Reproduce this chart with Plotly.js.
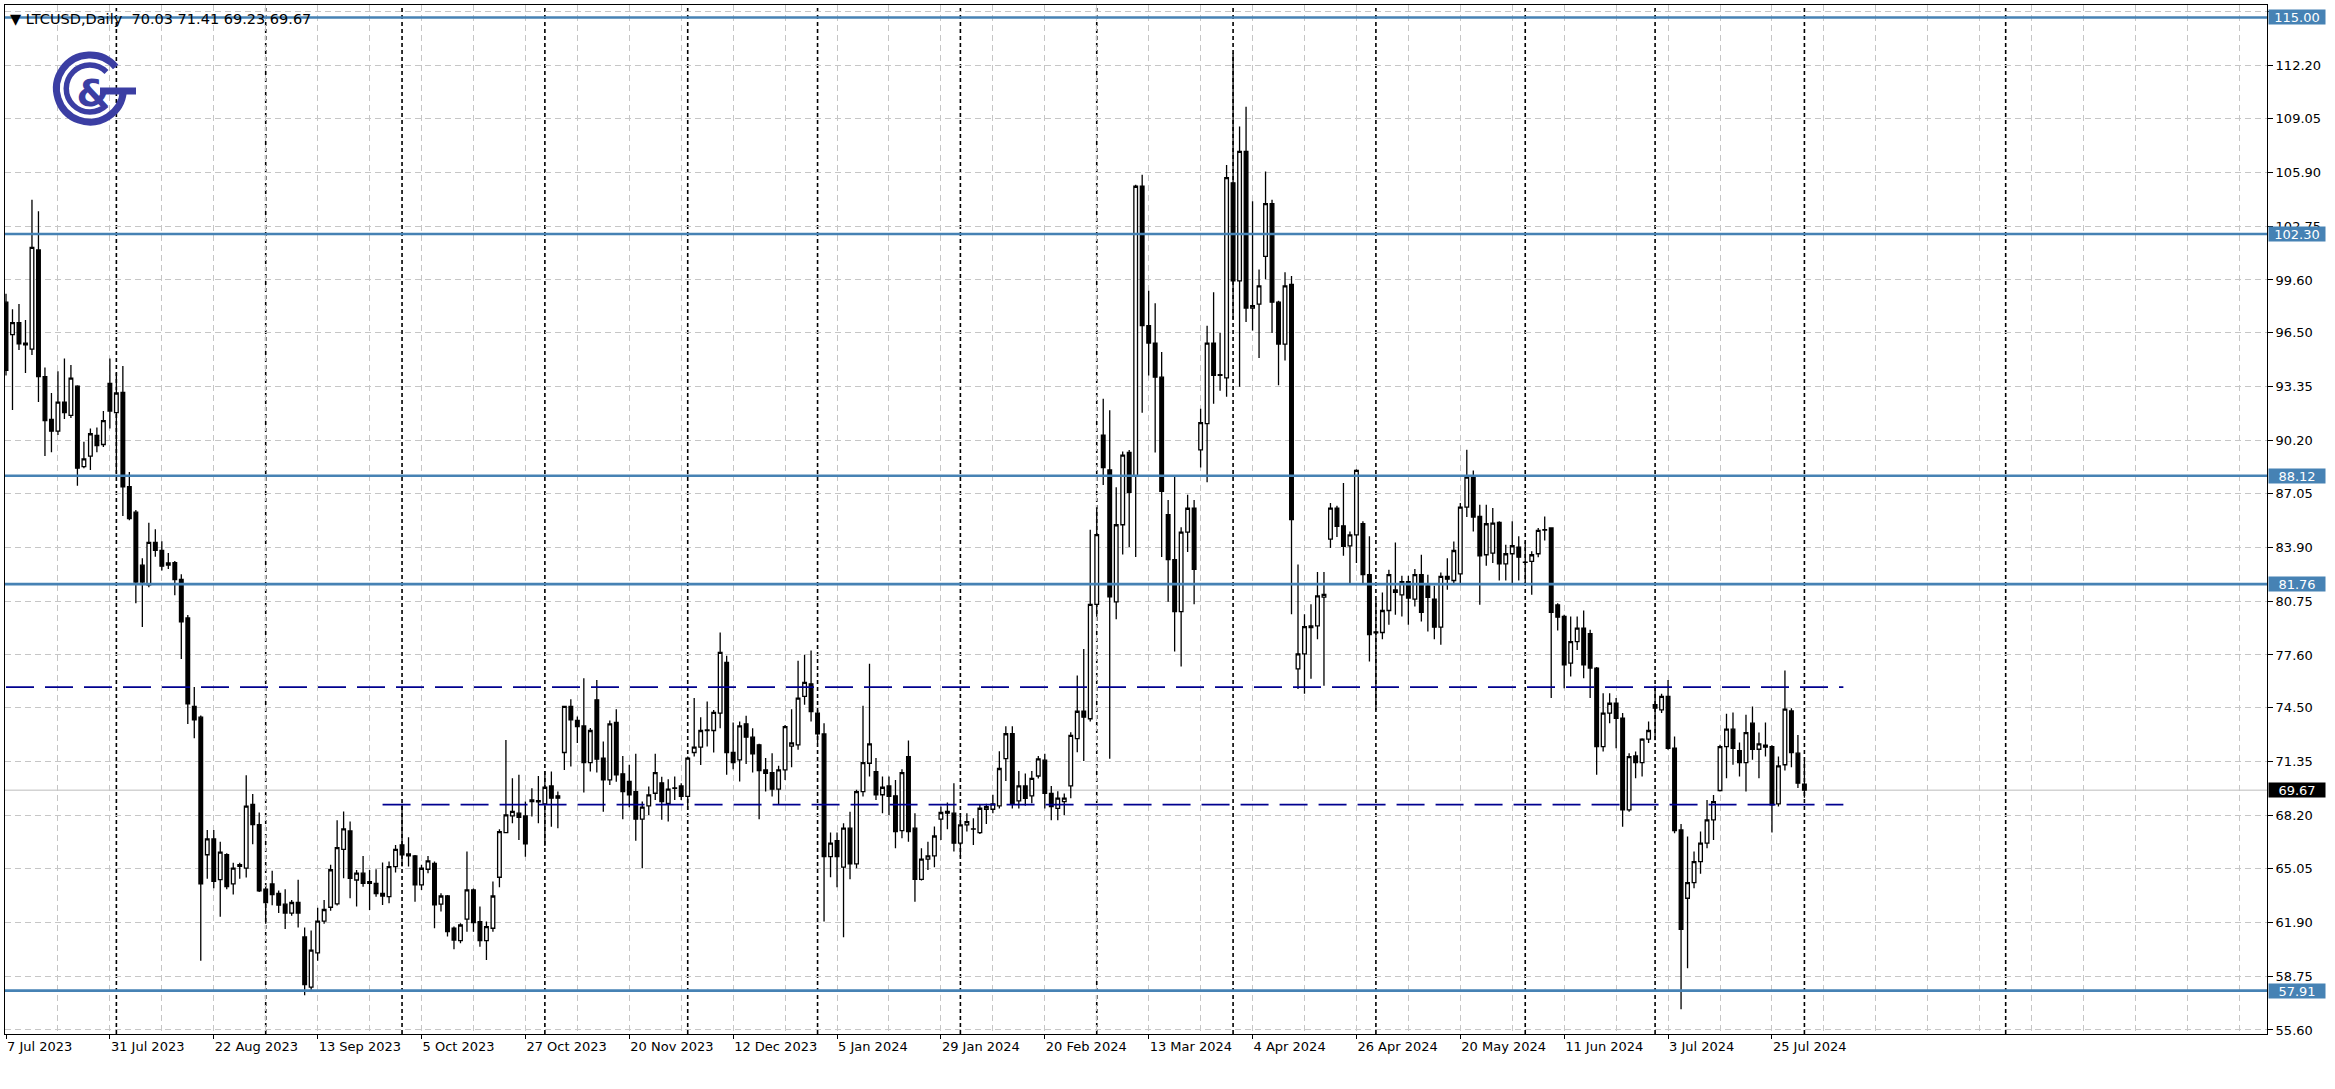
<!DOCTYPE html>
<html>
<head>
<meta charset="utf-8">
<script src="https://cdn.plot.ly/plotly-3.0.1.min.js"></script>
<style>
html,body{margin:0;padding:0;background:#fff;overflow:hidden}
#chart{width:2335px;height:1089px}
</style>
</head>
<body>
<div id="chart"></div>
<script>
// ---------- DATA ----------
const symbolTitle = "LTCUSD,Daily";
const headerValues = ["70.03", "71.41", "69.23", "69.67"];

const openP = [
  98.3, 96.39, 97.1, 95.9, 95.55, 101.36, 93.93, 91.42, 90.73, 92.44,
  91.66, 93.37, 88.65, 89.27, 90.48, 89.95, 93.53, 91.82, 93.0, 87.47,
  85.98, 82.87, 81.72, 84.21, 83.74, 82.88, 83.02, 82.03, 79.77, 74.58,
  73.95, 65.88, 66.81, 64.42, 65.88, 64.17, 65.3, 65.1, 68.83, 67.65,
  63.86, 64.17, 63.61, 62.98, 62.46, 63.08, 61.06, 58.11, 60.13, 61.99,
  62.8, 63.0, 66.2, 67.28, 64.4, 64.8, 64.3, 64.2, 63.62, 63.43,
  65.19, 66.46, 65.93, 65.81, 64.11, 65.03, 65.38, 62.99, 63.46, 61.57,
  60.84, 62.1, 63.82, 61.96, 60.84, 61.57, 64.56, 67.18, 68.16, 68.32,
  68.16, 69.0, 68.99, 68.87, 69.92, 69.34, 71.88, 74.58, 73.76, 73.44,
  71.29, 74.97, 71.55, 70.27, 73.64, 70.63, 70.18, 69.59, 67.97, 68.75,
  69.49, 70.1, 68.9, 69.8, 69.92, 69.3, 71.88, 72.19, 73.17, 73.17,
  74.19, 77.16, 71.88, 71.45, 73.56, 72.78, 72.33, 70.86, 70.7, 69.73,
  70.86, 72.25, 72.33, 75.17, 75.91, 74.19, 72.97, 65.77, 66.71, 65.15,
  67.44, 65.34, 69.59, 71.25, 70.76, 69.4, 69.92, 69.34, 67.3, 71.64,
  67.44, 64.44, 65.62, 65.81, 67.97, 68.42, 68.32, 66.56, 67.63, 67.38,
  67.18, 68.55, 68.55, 68.75, 71.52, 72.98, 69.04, 69.92, 69.33, 70.5,
  71.43, 69.48, 68.6, 69.0, 69.92, 72.69, 74.3, 73.86, 80.57, 90.5,
  88.46, 80.72, 85.24, 89.48, 88.08, 105.1, 96.92, 95.9, 93.9, 85.83,
  83.2, 80.14, 84.81, 86.21, 89.63, 91.17, 95.9, 94.0, 93.86, 105.3,
  99.55, 107.14, 97.95, 98.18, 100.99, 104.08, 98.3, 95.84, 99.34, 76.78,
  77.66, 79.2, 79.31, 81.0, 84.4, 86.22, 85.18, 84.0, 84.65, 85.3,
  82.31, 78.95, 78.92, 80.21, 81.42, 81.13, 81.91, 80.88, 82.31, 81.66,
  80.88, 79.23, 82.21, 81.97, 82.36, 86.28, 88.04, 85.73, 83.48, 83.58,
  85.38, 82.95, 83.54, 83.93, 83.03, 83.09, 83.54, 84.93, 85.05, 80.54,
  79.86, 77.12, 78.39, 79.18, 78.85, 76.83, 72.23, 74.19, 74.77, 73.89,
  68.51, 71.68, 71.29, 72.66, 74.68, 74.38, 75.17, 72.13, 67.34, 63.33,
  64.25, 65.48, 66.56, 67.93, 69.65, 72.23, 73.25, 71.99, 71.29, 73.6,
  72.07, 72.31, 72.23, 68.87, 71.16, 74.32, 71.84, 70.03
];
const highP = [
  98.8, 97.88, 98.19, 97.26, 104.31, 103.63, 94.46, 92.97, 94.24, 94.99,
  94.62, 93.43, 90.11, 90.89, 90.95, 91.91, 94.99, 94.15, 94.55, 88.34,
  86.1, 83.27, 85.36, 84.98, 84.27, 83.59, 83.12, 82.34, 79.95, 75.72,
  74.05, 67.34, 67.34, 66.65, 65.97, 65.41, 65.41, 70.54, 69.45, 68.36,
  64.01, 64.94, 63.79, 63.86, 63.23, 64.42, 61.62, 61.43, 62.77, 63.23,
  65.3, 67.9, 68.42, 67.83, 64.99, 65.81, 64.99, 65.03, 65.42, 65.48,
  66.46, 68.87, 66.91, 65.87, 65.29, 65.81, 65.48, 63.62, 63.52, 61.67,
  61.86, 66.07, 63.9, 62.84, 61.96, 64.31, 67.38, 72.62, 70.37, 70.57,
  69.0, 69.78, 70.5, 70.8, 70.76, 69.59, 74.6, 75.0, 73.99, 76.24,
  73.31, 76.14, 72.52, 73.76, 74.42, 71.68, 71.16, 71.8, 69.0, 69.88,
  71.8, 70.45, 70.31, 70.47, 70.08, 71.64, 75.07, 73.95, 74.87, 74.38,
  78.92, 77.55, 73.64, 73.7, 74.03, 73.3, 72.4, 71.55, 71.84, 71.1,
  73.5, 74.42, 77.26, 77.61, 77.86, 74.38, 73.6, 67.18, 67.18, 67.73,
  68.41, 69.7, 74.62, 77.08, 71.55, 70.47, 70.47, 70.27, 70.9, 72.58,
  68.32, 66.26, 66.65, 67.54, 68.71, 68.94, 70.08, 68.32, 68.32, 68.02,
  68.81, 68.87, 69.4, 71.96, 73.42, 73.42, 70.8, 70.65, 70.8, 71.67,
  71.8, 69.92, 69.6, 69.48, 73.07, 76.4, 77.95, 84.95, 86.27, 92.63,
  91.96, 87.44, 89.54, 89.62, 105.19, 105.77, 98.97, 98.24, 95.38, 86.7,
  88.08, 85.1, 87.0, 86.7, 92.05, 96.92, 98.88, 96.49, 106.35, 112.9,
  108.6, 109.77, 104.22, 100.22, 105.97, 104.31, 98.38, 100.05, 99.84, 82.91,
  79.99, 80.57, 82.47, 82.47, 86.51, 86.36, 87.69, 84.85, 88.5, 85.44,
  84.56, 80.84, 81.27, 82.6, 84.2, 82.25, 82.25, 82.64, 83.48, 82.31,
  81.66, 82.44, 83.28, 84.26, 86.51, 89.64, 88.43, 86.42, 86.42, 86.22,
  85.44, 84.07, 85.44, 84.56, 84.26, 83.68, 85.05, 85.73, 85.1, 80.64,
  79.96, 79.86, 79.86, 80.21, 79.08, 76.9, 75.36, 75.36, 75.07, 74.19,
  71.84, 71.94, 72.72, 73.7, 75.8, 75.32, 76.14, 72.82, 67.69, 66.95,
  66.07, 67.24, 69.1, 69.39, 72.33, 74.15, 74.23, 72.46, 74.09, 74.58,
  73.05, 73.64, 72.3, 71.64, 76.69, 74.48, 72.91, 71.41
];
const lowP = [
  94.0, 91.97, 95.49, 94.15, 95.2, 92.44, 89.27, 89.49, 90.51, 91.45,
  91.51, 87.53, 88.56, 88.46, 89.49, 89.8, 90.89, 88.25, 85.76, 85.5,
  80.63, 79.24, 81.57, 83.37, 82.56, 82.65, 81.1, 77.37, 73.55, 72.71,
  59.66, 64.48, 63.92, 62.24, 63.86, 63.55, 64.48, 64.54, 66.5, 63.7,
  61.84, 62.92, 62.46, 61.53, 62.3, 61.62, 57.64, 57.95, 59.66, 61.84,
  62.6, 62.9, 64.5, 63.33, 62.84, 64.0, 62.64, 63.42, 62.94, 63.03,
  64.84, 65.19, 65.19, 63.13, 63.82, 64.8, 61.57, 62.55, 61.08, 60.34,
  60.69, 61.37, 61.37, 60.49, 59.71, 61.37, 63.97, 67.14, 67.73, 66.75,
  65.77, 68.12, 67.73, 66.4, 67.53, 67.43, 70.86, 71.06, 72.43, 69.53,
  70.76, 70.7, 68.41, 69.98, 70.17, 67.97, 68.67, 66.7, 65.09, 68.22,
  69.1, 67.93, 67.83, 69.1, 69.1, 68.51, 71.64, 71.15, 72.23, 71.88,
  73.3, 70.57, 70.9, 70.18, 71.21, 70.7, 67.97, 69.59, 69.3, 68.86,
  70.27, 71.02, 72.04, 74.68, 73.7, 72.43, 61.96, 64.56, 63.97, 61.04,
  64.44, 65.09, 69.3, 70.47, 69.1, 68.32, 68.22, 66.26, 66.85, 66.65,
  63.13, 64.37, 64.99, 65.15, 66.75, 67.38, 66.07, 65.73, 67.24, 66.46,
  67.1, 67.69, 68.32, 68.6, 70.21, 68.6, 68.6, 68.75, 68.9, 70.36,
  68.6, 67.9, 67.9, 68.2, 69.19, 71.9, 71.38, 73.7, 79.85, 87.58,
  71.52, 79.7, 83.5, 83.93, 83.35, 91.81, 94.0, 89.48, 83.35, 80.72,
  77.8, 76.92, 83.64, 80.57, 88.6, 87.73, 92.34, 93.1, 92.75, 97.3,
  93.33, 97.13, 96.63, 95.03, 99.64, 96.49, 93.42, 94.88, 79.99, 75.61,
  75.32, 76.2, 78.53, 75.8, 83.87, 84.52, 83.42, 81.82, 82.99, 81.72,
  77.22, 74.38, 78.53, 79.37, 79.96, 79.86, 79.37, 80.45, 79.57, 78.98,
  78.53, 78.2, 81.43, 81.82, 81.82, 85.69, 84.85, 80.55, 82.83, 82.99,
  81.97, 81.97, 81.82, 81.97, 81.82, 81.13, 83.34, 84.32, 75.07, 79.04,
  75.65, 76.34, 77.9, 76.24, 75.07, 70.57, 71.94, 73.6, 72.13, 67.53,
  68.41, 70.37, 70.47, 72.43, 72.6, 74.19, 72.04, 67.14, 56.81, 59.22,
  63.91, 64.76, 66.26, 66.75, 69.59, 70.37, 71.16, 70.47, 69.59, 71.45,
  70.37, 71.64, 67.18, 68.71, 70.82, 71.02, 69.79, 69.23
];
const closeP = [
  94.3, 97.1, 95.86, 95.8, 101.51, 93.93, 91.35, 90.73, 92.44, 91.82,
  93.84, 88.56, 89.1, 90.58, 89.89, 91.35, 91.91, 92.97, 87.47, 85.6,
  81.88, 81.88, 84.21, 83.74, 82.81, 83.0, 82.03, 79.55, 74.73, 73.8,
  64.17, 66.81, 64.32, 66.03, 64.01, 65.1, 65.2, 68.73, 67.65, 63.76,
  63.08, 63.55, 62.92, 62.46, 63.08, 62.46, 58.27, 60.28, 61.99, 62.67,
  65.0, 66.3, 67.4, 64.5, 64.8, 64.2, 64.2, 63.6, 63.46, 65.19,
  66.2, 65.87, 65.81, 64.11, 65.09, 65.52, 62.94, 63.46, 61.37, 60.88,
  61.76, 63.82, 61.9, 60.84, 61.67, 63.46, 67.24, 68.22, 68.42, 68.08,
  66.52, 69.1, 69.06, 69.84, 69.2, 69.2, 74.58, 73.8, 73.4, 71.29,
  73.17, 71.49, 70.27, 73.56, 70.57, 69.59, 69.4, 67.97, 68.67, 69.39,
  70.7, 69.0, 69.73, 69.78, 69.3, 71.55, 72.19, 73.17, 73.2, 74.23,
  77.75, 71.88, 71.29, 73.44, 72.78, 71.8, 70.82, 70.66, 69.73, 70.86,
  73.4, 72.45, 75.07, 75.99, 74.28, 72.97, 65.77, 66.56, 65.77, 67.44,
  65.34, 69.59, 71.29, 72.39, 69.4, 69.84, 69.3, 67.24, 70.7, 67.24,
  64.44, 65.62, 65.81, 66.98, 68.36, 68.32, 66.56, 67.63, 67.83, 67.4,
  68.61, 68.71, 68.87, 70.94, 72.98, 68.9, 69.92, 69.19, 70.36, 71.5,
  69.48, 68.7, 69.2, 69.2, 72.89, 74.3, 73.95, 80.57, 84.66, 88.6,
  81.01, 85.24, 89.33, 87.14, 105.1, 96.92, 95.9, 93.9, 87.2, 83.2,
  80.14, 84.81, 86.21, 82.62, 91.23, 95.9, 94.0, 94.05, 105.6, 99.55,
  107.14, 97.95, 98.1, 99.26, 104.08, 98.3, 95.84, 99.26, 85.54, 77.66,
  79.26, 79.3, 81.07, 81.16, 86.22, 85.14, 83.97, 84.65, 88.43, 82.31,
  78.79, 78.9, 80.21, 82.31, 81.27, 81.91, 80.94, 82.31, 80.1, 80.98,
  79.23, 82.21, 82.05, 83.73, 86.28, 88.04, 85.69, 83.42, 85.3, 85.34,
  82.95, 83.54, 84.01, 83.34, 83.05, 83.48, 84.91, 84.95, 80.1, 79.82,
  77.02, 78.39, 79.18, 77.02, 76.83, 72.23, 74.19, 74.77, 73.89, 68.51,
  71.64, 71.29, 72.66, 73.17, 74.48, 75.17, 72.13, 67.3, 61.51, 64.25,
  65.48, 66.56, 67.93, 69.0, 72.23, 73.25, 72.13, 71.29, 73.05, 72.07,
  72.39, 72.19, 68.81, 71.1, 74.42, 71.88, 70.08, 69.67
];

// date labels every 16 daily bars (weekday bars)
const dateLabels = ["7 Jul 2023", "31 Jul 2023", "22 Aug 2023", "13 Sep 2023", "5 Oct 2023",
  "27 Oct 2023", "20 Nov 2023", "12 Dec 2023", "5 Jan 2024", "29 Jan 2024", "20 Feb 2024",
  "13 Mar 2024", "4 Apr 2024", "26 Apr 2024", "20 May 2024", "11 Jun 2024", "3 Jul 2024", "25 Jul 2024"];
const barsPerLabel = 16;
const barsPerGrid = 8;
// bar index of the first bar of every month (period separators)
const monthStartBars = [17, 40, 61, 83, 105, 125, 147, 168, 189, 211, 234, 254, 277, 308];

const priceTicks = [55.60, 58.75, 61.90, 65.05, 68.20, 71.35, 74.50, 77.60, 80.75, 83.90, 87.05,
  90.20, 93.35, 96.50, 99.60, 102.75, 105.90, 109.05, 112.20, 115.35];
const hiddenTick = 115.35; // label hidden behind the 115.00 box in the reference

const levelPrices = [115.00, 102.30, 88.12, 81.76, 57.91];
const dashedPrices = [75.71, 68.82];
const dashedFromBar = [0, 58];
const dashedToBar = [283, 283];
const bidPrice = 69.67;

// ---------- CHART ----------
const barIdx = openP.map((_, i) => i);
const tickVals = dateLabels.map((_, i) => i * barsPerLabel);

const blue = '#4682B4';
const navy = '#00008F';
const gridCol = '#c6c6c6';

const shapes = [];
monthStartBars.forEach(b => shapes.push({
  type: 'line', xref: 'x', yref: 'paper', x0: b, x1: b, y0: 0, y1: 1,
  line: {color: '#000', width: 1.6, dash: '4px,3px'}, layer: 'below'
}));
shapes.push({type: 'line', xref: 'paper', yref: 'y', x0: 0, x1: 1, y0: bidPrice, y1: bidPrice,
  line: {color: '#bdbdbd', width: 1}, layer: 'below'});
levelPrices.forEach(p => shapes.push({
  type: 'line', xref: 'paper', yref: 'y', x0: 0, x1: 1, y0: p, y1: p,
  line: {color: blue, width: 2.6}, layer: 'above'
}));
dashedPrices.forEach((p, i) => shapes.push({
  type: 'line', xref: 'x', yref: 'y', x0: dashedFromBar[i], x1: dashedToBar[i], y0: p, y1: p,
  line: {color: navy, width: 1.8, dash: '28px,11px'}, layer: 'above'
}));

const annotations = [];
levelPrices.forEach(p => annotations.push({
  xref: 'paper', yref: 'y', x: 1, y: p, xanchor: 'left', yanchor: 'middle', xshift: 1,
  text: p.toFixed(2), showarrow: false, bgcolor: blue, width: 56, height: 14, borderpad: 0,
  font: {family: 'DejaVu Sans', size: 13, color: '#fff'}
}));
annotations.push({
  xref: 'paper', yref: 'y', x: 1, y: bidPrice, xanchor: 'left', yanchor: 'middle', xshift: 1,
  text: bidPrice.toFixed(2), showarrow: false, bgcolor: '#000', width: 56, height: 14, borderpad: 0,
  font: {family: 'DejaVu Sans', size: 13, color: '#fff'}
});
annotations.push({
  xref: 'paper', yref: 'paper', x: 0.0013, y: 0.9864, xanchor: 'left', yanchor: 'middle',
  text: '\u25BC ' + symbolTitle + '\u00a0\u00a0' + headerValues.join(' '), showarrow: false,
  font: {family: 'DejaVu Sans', size: 14.5, color: '#000'}
});

const logoCol = '#3b3ea3';
const logoSvg = '<svg xmlns="http://www.w3.org/2000/svg" width="100" height="90" viewBox="0 0 100 90">' +
  '<path d="M 70.66 23.97 A 33.5 33.5 0 1 0 78.37 48.42" fill="none" stroke="' + logoCol + '" stroke-width="7"/>' +
  '<path d="M 61.5 29.0 A 23.5 23.5 0 1 0 61.5 62.0" fill="none" stroke="' + logoCol + '" stroke-width="5.5"/>' +
  '<rect x="55" y="44.5" width="36" height="7" fill="' + logoCol + '"/>' +
  '<text x="48" y="63" font-family="DejaVu Sans" font-weight="bold" font-size="38" text-anchor="middle" fill="' + logoCol + '">&amp;</text>' +
  '</svg>';

const trace = {
  type: 'candlestick', x: barIdx, open: openP, high: highP, low: lowP, close: closeP,
  increasing: {line: {color: '#000', width: 1.3}, fillcolor: '#fff'},
  decreasing: {line: {color: '#000', width: 1.3}, fillcolor: '#000'},
  whiskerwidth: 0, hoverinfo: 'skip', showlegend: false
};

const layout = {
  width: 2335, height: 1089,
  margin: {l: 5, r: 68, t: 5, b: 55},
  paper_bgcolor: '#fff', plot_bgcolor: '#fff',
  showlegend: false, boxgap: 0.25, boxgroupgap: 0.25,
  font: {family: 'DejaVu Sans', size: 13, color: '#000'},
  xaxis: {
    range: [-0.154, 348.25], tickmode: 'array', tickvals: tickVals, ticktext: dateLabels,
    ticks: 'outside', ticklen: 4, tickcolor: '#000', tickwidth: 1,
    ticklabelposition: 'outside right',
    showgrid: true, gridcolor: gridCol, griddash: '6px,4px', gridwidth: 1,
    minor: {tickmode: 'linear', tick0: 0, dtick: barsPerGrid, showgrid: true, gridcolor: gridCol, griddash: '6px,4px', gridwidth: 1, ticks: ''},
    showline: true, linecolor: '#000', linewidth: 1, mirror: true, zeroline: false,
    rangeslider: {visible: false}, fixedrange: true,
    tickfont: {family: 'DejaVu Sans', size: 13, color: '#000'}
  },
  yaxis: {
    side: 'right', range: [55.365, 115.733], tickmode: 'array', tickvals: priceTicks,
    ticktext: priceTicks.map(v => v === hiddenTick ? '' : v.toFixed(2)),
    ticks: 'outside', ticklen: 5, tickcolor: '#000', tickwidth: 1,
    showgrid: true, gridcolor: gridCol, griddash: '6px,4px', gridwidth: 1,
    showline: true, linecolor: '#000', linewidth: 1, mirror: true, zeroline: false, fixedrange: true,
    tickfont: {family: 'DejaVu Sans', size: 13, color: '#000'}
  },
  shapes: shapes,
  annotations: annotations,
  images: [{
    source: 'data:image/svg+xml;charset=utf-8,' + encodeURIComponent(logoSvg),
    xref: 'paper', yref: 'paper', x: 0.017683, y: 0.963071, sizex: 0.044209, sizey: 0.087464,
    xanchor: 'left', yanchor: 'top', sizing: 'stretch', layer: 'above'
  }]
};

Plotly.newPlot('chart', [trace], layout, {staticPlot: true, displayModeBar: false});
</script>
</body>
</html>
